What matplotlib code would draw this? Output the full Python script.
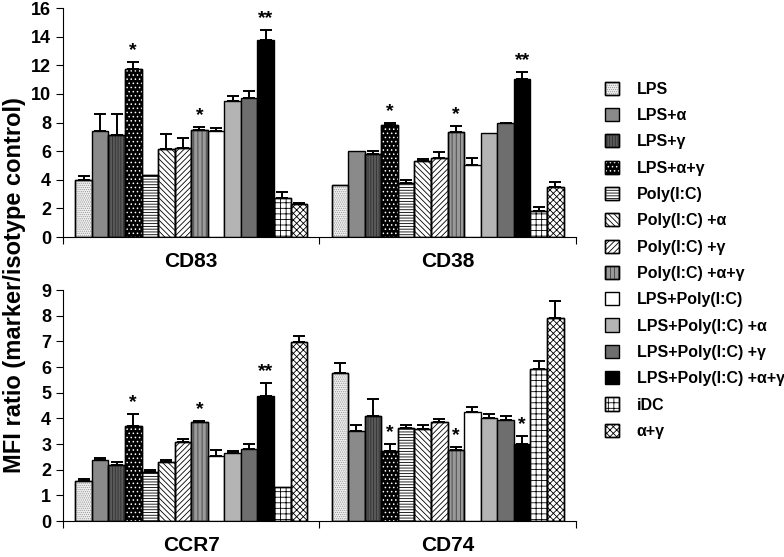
import numpy as np
import matplotlib.pyplot as plt
from matplotlib.patches import Patch

# conditions (legend order == bar order)
conditions = ["LPS", "LPS+α", "LPS+γ", "LPS+α+γ", "Poly(I:C)", "Poly(I:C) +α",
              "Poly(I:C) +γ", "Poly(I:C) +α+γ", "LPS+Poly(I:C)", "LPS+Poly(I:C) +α",
              "LPS+Poly(I:C) +γ", "LPS+Poly(I:C) +α+γ", "iDC", "α+γ"]

cd83 = [3.95, 7.4, 7.1, 11.75, 4.35, 6.15, 6.2, 7.45, 7.4, 9.5, 9.75, 13.8, 2.75, 2.3]
cd83_err = [0.3, 1.2, 1.5, 0.5, 0.0, 1.05, 0.75, 0.25, 0.23, 0.37, 0.46, 0.7, 0.4, 0.05]
cd38 = [3.6, 6.0, 5.8, 7.8, 3.8, 5.3, 5.5, 7.35, 5.05, 7.25, 7.95, 11.05, 1.85, 3.5]
cd38_err = [0.0, 0.0, 0.2, 0.2, 0.16, 0.18, 0.46, 0.44, 0.46, 0.0, 0.05, 0.47, 0.23, 0.33]
ccr7 = [1.56, 2.39, 2.18, 3.72, 1.9, 2.31, 3.07, 3.86, 2.54, 2.64, 2.82, 4.89, 1.31, 6.98]
ccr7_err = [0.08, 0.08, 0.12, 0.45, 0.08, 0.08, 0.13, 0.05, 0.22, 0.1, 0.18, 0.49, 0.0, 0.24]
cd74 = [5.76, 3.49, 4.08, 2.74, 3.63, 3.58, 3.84, 2.78, 4.24, 4.03, 3.95, 2.99, 5.94, 7.92]
cd74_err = [0.4, 0.27, 0.69, 0.26, 0.12, 0.17, 0.13, 0.12, 0.19, 0.13, 0.15, 0.33, 0.3, 0.65]

# significance marks: bar index -> text
stars_top = {3: "*", 7: "*", 11: "**"}
stars_cd74 = {3: "*", 7: "*", 11: "*"}

# (facecolor, hatch, hatch colour)
styles = [
    ("#f0f0f0", "........", "#999999"),
    ("#8a8a8a", "", None),
    ("#5a5a5a", "||||||", "#303030"),
    ("#000000", "....", "#ffffff"),
    ("#ffffff", "------", "#000000"),
    ("#ffffff", "\\\\\\\\\\\\", "#000000"),
    ("#ffffff", "//////", "#000000"),
    ("#9a9a9a", "||||", "#404040"),
    ("#ffffff", "", None),
    ("#b4b4b4", "", None),
    ("#6e6e6e", "", None),
    ("#000000", "", None),
    ("#ffffff", "+++", "#000000"),
    ("#ffffff", "xxxxx", "#000000"),
]

plt.rcParams['font.family'] = ['Liberation Sans', 'DejaVu Sans']
plt.rcParams['font.weight'] = 'bold'
plt.rcParams['hatch.linewidth'] = 0.6

fig = plt.figure(figsize=(7.84, 5.57), dpi=100)
ax_top = fig.add_axes([0.0804, 0.5745, 0.654, 0.411])
ax_bot = fig.add_axes([0.0804, 0.0646, 0.654, 0.4147])

bw = 0.0646


def draw_group(ax, center, vals, errs, stars):
    xs = center + (np.arange(14) - 6.5) * bw
    for i, (x, v, e) in enumerate(zip(xs, vals, errs)):
        fc, hatch, hc = styles[i]
        ax.bar(x, v, bw, color=fc, edgecolor="black", linewidth=1.0, zorder=2)
        if hatch:
            ax.bar(x, v, bw, color="none", edgecolor=hc, hatch=hatch, linewidth=0, zorder=3)
            ax.bar(x, v, bw, color="none", edgecolor="black", linewidth=1.0, zorder=4)
        if e > 0:
            ax.errorbar(x, v, yerr=[[0], [e]], fmt="none", ecolor="black",
                        elinewidth=1.4, capsize=4.5, capthick=1.4, zorder=1)
    ymax = ax.get_ylim()[1]
    for i, s in stars.items():
        ax.text(xs[i], vals[i] + errs[i] + ymax * 0.012, s, ha="center", va="bottom",
                fontsize=14, fontweight="bold")


def style_axes(ax, ymax, labels):
    ax.set_xlim(0, 2)
    ax.set_ylim(0, ymax)
    for sp in ["top", "right"]:
        ax.spines[sp].set_visible(False)
    ax.set_xticks([0, 1, 2])
    ax.set_xticklabels([])
    ax.set_xticks([0.5, 1.5], minor=True)
    ax.set_xticklabels(labels, minor=True, fontsize=15, fontweight="bold")
    ax.tick_params(axis="x", which="minor", length=0, pad=11)
    ax.tick_params(axis="x", which="major", length=5, direction="out")
    ax.tick_params(axis="y", labelsize=13, length=5, direction="out")
    for lab in ax.get_yticklabels():
        lab.set_fontweight("bold")


style_axes(ax_top, 16, ["CD83", "CD38"])
ax_top.set_yticks(np.arange(0, 17, 2))
style_axes(ax_bot, 9, ["CCR7", "CD74"])
ax_bot.set_yticks(np.arange(0, 10, 1))

draw_group(ax_top, 0.5, cd83, cd83_err, stars_top)
draw_group(ax_top, 1.5, cd38, cd38_err, stars_top)
draw_group(ax_bot, 0.5, ccr7, ccr7_err, stars_top)
draw_group(ax_bot, 1.5, cd74, cd74_err, stars_cd74)

fig.text(0.019, 0.488, "MFI ratio (marker/isotype control)", rotation=90,
         ha="center", va="center", fontsize=17, fontweight="bold")

handles = []
for fc, hatch, hc in styles:
    base = Patch(facecolor=fc, edgecolor="black", linewidth=1.0)
    if hatch:
        h = Patch(facecolor="none", edgecolor=hc, hatch=hatch, linewidth=0)
        edge = Patch(facecolor="none", edgecolor="black", linewidth=1.0)
        handles.append((base, h, edge))
    else:
        handles.append(base)

fig.legend(handles, conditions, loc="upper left", bbox_to_anchor=(0.763, 0.865),
           frameon=False, fontsize=11.5, handlelength=0.9, handleheight=0.9,
           handletextpad=1.1, labelspacing=0.7, borderaxespad=0)

fig.savefig("out.png", dpi=100)
